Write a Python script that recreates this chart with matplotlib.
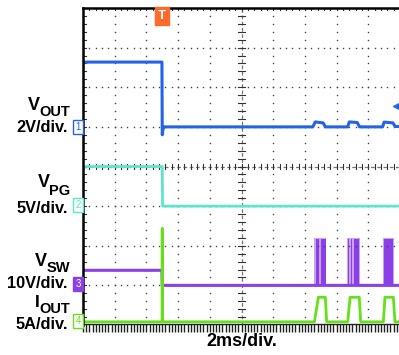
import numpy as np
import matplotlib.pyplot as plt

# time base 2 ms/div, 10 div; 8 vertical div
ms_per_div = 2.0

# channel settings: scale per div, ground position (div from bottom)
ch_scale = {"vout": 2.0, "vpg": 5.0, "vsw": 10.0, "iout": 5.0}
ch_ground = {"vout": 5.0, "vpg": 3.0, "vsw": 1.0, "iout": 0.08}

# VOUT (V)
t_vout = [0, 4.98, 5.0, 5.06, 5.1, 14.5, 14.65, 15.15, 15.3, 16.7, 16.8, 17.3, 17.45, 18.9, 19.0, 19.55, 19.7, 20]
v_vout = [3.27, 3.27, -0.4, -0.05, 0.0, 0.0, 0.25, 0.2, 0.0, 0.0, 0.25, 0.22, 0.0, 0.0, 0.24, 0.2, 0.02, 0.02]

# VPG (V)
t_vpg = [0, 5.0, 5.02, 20]
v_vpg = [5.0, 5.0, 0.0, 0.0]

# VSW (V)
t_vsw = [0, 4.98, 5.0, 20]
v_vsw = [3.8, 3.8, 0.0, 0.0]
burst_light = [(14.6, 15.35), (16.68, 17.45), (18.92, 19.6)]
burst_dark = [(14.68, 14.92), (15.02, 15.3), (16.72, 16.8), (16.93, 17.0), (17.1, 17.42), (18.96, 19.56)]
burst_top = 12.0

# IOUT (A)
t_iout = [0, 4.99, 5.0, 5.01, 14.6, 14.85, 15.29, 15.37, 16.7, 16.85, 17.43, 17.52, 18.95, 19.05, 19.58, 19.68, 20]
i_iout = [0, 0, 11.8, 0, 0, 3.1, 3.1, 0, 0, 3.1, 3.1, 0, 0, 3.1, 3.1, 0, 0]

trig_time = 5.0
trig_level = 1.06  # on VOUT

c_blue = "#2563e6"
c_cyan = "#5ee6cc"
c_purple = "#8b3fe6"
c_green = "#66e01c"


def to_div(name, vals):
    return [ch_ground[name] + v / ch_scale[name] for v in vals]


def tdiv(ts):
    return [t / ms_per_div for t in ts]


fig = plt.figure(figsize=(3.99, 3.55), dpi=100)
W, H = 399, 355
ax = fig.add_axes([83 / W, (H - 325) / H, 317 / W, 317 / H])
ax.set_xlim(0, 10)
ax.set_ylim(0, 8)
ax.set_xticks([])
ax.set_yticks([])
for s in ["right", "bottom"]:
    ax.spines[s].set_visible(False)
for s in ["left", "top"]:
    ax.spines[s].set_linewidth(1.8)

# graticule dots
sub = np.arange(0, 8.01, 0.2)
for gx in [1, 2, 3, 4, 6, 7, 8, 9]:
    ax.plot([gx] * len(sub), sub, ls="none", marker="s", ms=1.0, color="#444444", mew=0)
subx = np.arange(0, 10.01, 0.2)
for gy in [1, 2, 3, 5, 6, 7]:
    ax.plot(subx, [gy] * len(subx), ls="none", marker="s", ms=1.0, color="#444444", mew=0)

# centre crosshair with ticks
ax.plot([5, 5], [0, 8], color="#777777", lw=0.9, ls=(0, (3, 2)))
ax.plot([0, 10], [4, 4], color="#777777", lw=0.9, ls=(0, (3, 2)))
for y in sub:
    ax.plot([4.9, 5.1], [y, y], color="#333333", lw=0.8)
    ax.plot([0, 0.08], [y, y], color="#333333", lw=0.8)
for x in subx:
    ax.plot([x, x], [3.93, 4.07], color="#333333", lw=0.8)
    ax.plot([x, x], [7.94, 8], color="#333333", lw=0.8)

# bottom comb
comb = np.arange(0, 10.01, 0.1)
ax.vlines(comb, -0.17, 0.03, color="#222222", lw=1.0, clip_on=False)
ax.plot([0, 10], [0.03, 0.03], color="#222222", lw=1.0, clip_on=False)

# traces
ax.plot(tdiv(t_vpg), to_div("vpg", v_vpg), color=c_cyan, lw=2.0)
for a, b in burst_light:
    ax.fill_between([a / ms_per_div, b / ms_per_div], ch_ground["vsw"],
                    ch_ground["vsw"] + burst_top / ch_scale["vsw"], color="#c9a3f2", lw=0)
for a, b in burst_dark:
    ax.fill_between([a / ms_per_div, b / ms_per_div], ch_ground["vsw"],
                    ch_ground["vsw"] + burst_top * 0.97 / ch_scale["vsw"], color=c_purple, lw=0)
ax.plot(tdiv(t_vsw), to_div("vsw", v_vsw), color=c_purple, lw=2.2)
ax.plot(tdiv(t_iout), to_div("iout", i_iout), color=c_green, lw=2.0)
ax.plot(tdiv(t_vout), to_div("vout", v_vout), color=c_blue, lw=2.2)

# trigger markers
ax.plot([9.87], to_div("vout", [trig_level]), marker="<", color=c_blue, ms=5, clip_on=False)
ax.text(trig_time / ms_per_div, 7.8, "T", color="white", fontsize=9.5, fontweight="bold",
        ha="center", va="center", family="Liberation Sans",
        bbox=dict(boxstyle="square,pad=0.22", fc="#ff6a2a", ec="#ff6a2a"), clip_on=False)


def ptext(x, y, s, **kw):
    return fig.text(x / W, 1 - y / H, s, family="Liberation Sans", fontweight="bold", **kw)


# channel labels: (main letter, subscript, main baseline, sub baseline, scale text, scale baseline)
labels = [
    ("V", "OUT", 110, 116, "2V/div.", 132),
    ("V", "PG", 187, 195, "5V/div.", 213),
    ("V", "SW", 266, 272, "10V/div.", 288),
    ("I", "OUT", 307, 313, "5A/div.", 329),
]
fig.canvas.draw()
renderer = fig.canvas.get_renderer()
for main, subs, my, sby, scl, sy in labels:
    st = ptext(70, sby, subs, fontsize=10.5, va="baseline", ha="right")
    left_px = st.get_window_extent(renderer).x0
    fig.text(left_px / W + 0.002, 1 - my / H, main, family="Liberation Sans",
             fontweight="bold", fontsize=13 if main == "V" else 12.5, va="baseline", ha="right")
    ptext(68, sy, scl, fontsize=11.8, va="baseline", ha="right")

# channel markers
markers = [("1", 127, c_blue, "white", c_blue),
           ("2", 205, c_cyan, "white", c_cyan),
           ("3", 284, c_purple, c_purple, "white"),
           ("4", 321, c_green, "white", c_green)]
for num, y, ec, fc, tc in markers:
    fig.text(78 / W, 1 - y / H, num, fontsize=7, color=tc, ha="center", va="center",
             family="Liberation Sans",
             bbox=dict(boxstyle="square,pad=0.2", fc=fc, ec=ec, lw=1.0))

ptext(242, 346, "2ms/div.", fontsize=13, ha="center", va="baseline")

fig.savefig("out.png", dpi=100)
